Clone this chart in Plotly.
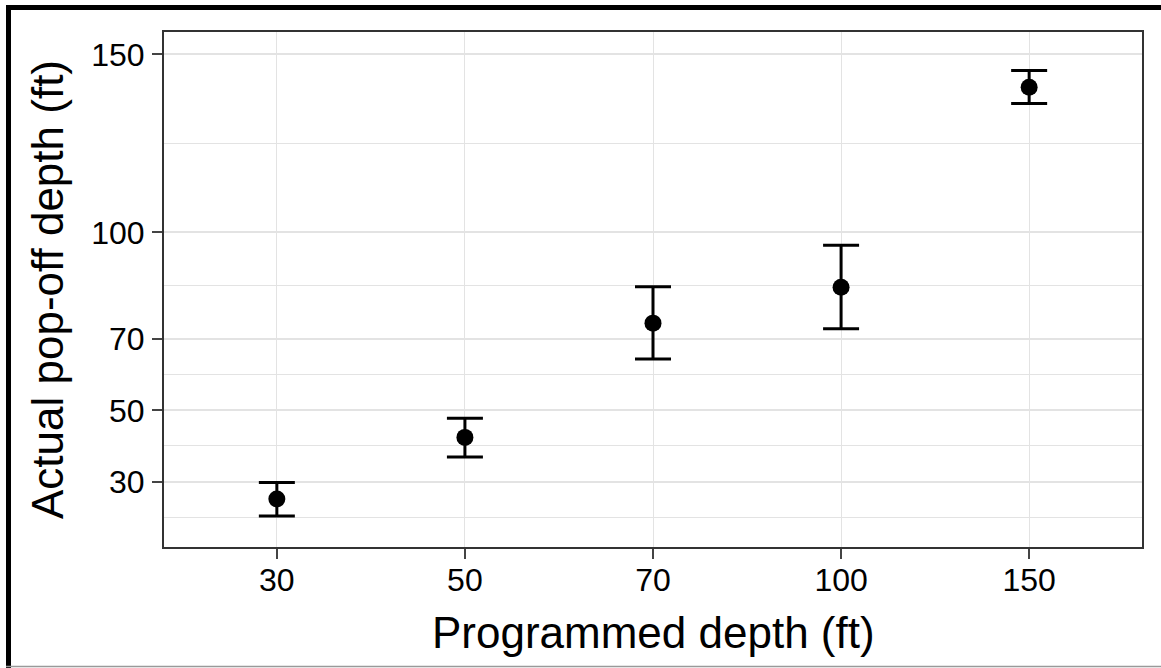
import plotly.graph_objects as go

# ---- data ----
categories = ["30", "50", "70", "100", "150"]
means = [25.1, 42.4, 74.5, 84.6, 140.8]
upper = [29.7, 47.8, 84.7, 96.4, 145.5]
lower = [20.3, 36.9, 64.4, 72.9, 136.2]
y_ticks = [30, 50, 70, 100, 150]
y_minor = [20, 40, 60, 85, 125]
x_title = "Programmed depth (ft)"
y_title = "Actual pop-off depth (ft)"

err_plus = [u - m for u, m in zip(upper, means)]
err_minus = [m - l for m, l in zip(means, lower)]

W, H = 1161, 668
ML, MR, MT, MB = 164, 19, 32, 121
PW, PH = W - ML - MR, H - MT - MB


def px_x(px):
    return (px - ML) / PW


def px_y(py):
    return (H - MB - py) / PH


FONT = "Liberation Sans, Arial, sans-serif"

fig = go.Figure()
fig.add_trace(go.Scatter(
    x=categories, y=means, mode="markers",
    marker=dict(color="black", size=17),
    error_y=dict(type="data", symmetric=False, array=err_plus,
                 arrayminus=err_minus, color="black", thickness=3, width=18),
    showlegend=False,
))

grid_c = "#e3e3e3"
fig.update_layout(
    width=W, height=H,
    margin=dict(l=ML, r=MR, t=MT, b=MB, autoexpand=False),
    paper_bgcolor="white", plot_bgcolor="white",
    font=dict(family=FONT, color="black"),
    xaxis=dict(
        type="category", range=[-0.6, 4.6],
        showgrid=True, gridcolor=grid_c, gridwidth=1,
        showline=True, linecolor="#333333", linewidth=2, mirror=True,
        ticks="outside", ticklen=10, tickwidth=1.5, tickcolor="#444444",
        tickfont=dict(size=32, family=FONT, color="black"),
        ticklabelstandoff=-6,
        zeroline=False,
    ),
    yaxis=dict(
        range=[11.6, 156.3],
        tickvals=y_ticks, ticktext=[str(v) for v in y_ticks],
        showgrid=True, gridcolor=grid_c, gridwidth=1.5,
        minor=dict(tickvals=y_minor, showgrid=True, gridcolor=grid_c, gridwidth=1, ticklen=0),
        showline=True, linecolor="#333333", linewidth=2, mirror=True,
        ticks="outside", ticklen=10, tickwidth=1.5, tickcolor="#444444",
        tickfont=dict(size=32, family=FONT, color="black"),
        ticklabelstandoff=1,
        title=dict(text=y_title, font=dict(size=44, family=FONT, color="black"), standoff=14),
        zeroline=False,
    ),
    annotations=[
        dict(text=x_title, xref="paper", yref="paper", x=0.5, y=px_y(606),
             xanchor="center", yanchor="top", showarrow=False,
             font=dict(size=44, family=FONT, color="black")),
    ],
    shapes=[
        # outer frame: thick black top and left, thin grey bottom
        dict(type="rect", xref="paper", yref="paper",
             x0=px_x(6), x1=px_x(W + 5), y0=px_y(10), y1=px_y(5),
             fillcolor="black", line=dict(width=0), layer="above"),
        dict(type="rect", xref="paper", yref="paper",
             x0=px_x(6), x1=px_x(11), y0=px_y(H + 5), y1=px_y(5),
             fillcolor="black", line=dict(width=0), layer="above"),
        dict(type="line", xref="paper", yref="paper",
             x0=px_x(6), x1=px_x(W + 5), y0=px_y(666.5), y1=px_y(666.5),
             line=dict(color="#999999", width=1.5), layer="above"),
    ],
)

fig.write_html("out.html", config={"displayModeBar": False})

# remove the default page margin so the figure sits at the window origin
with open("out.html", "r", encoding="utf-8") as f:
    html = f.read()
html = html.replace("<head>", "<head><style>html,body{margin:0;padding:0;overflow:hidden;}</style>", 1)
with open("out.html", "w", encoding="utf-8") as f:
    f.write(html)
